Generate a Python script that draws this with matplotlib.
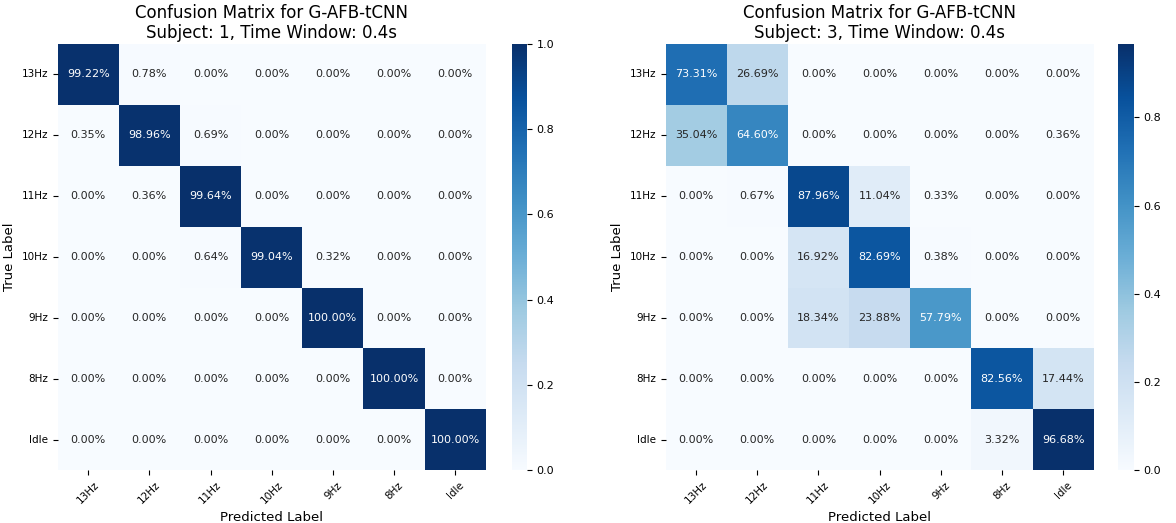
import numpy as np
import matplotlib
matplotlib.use("Agg")
import matplotlib.pyplot as plt
import seaborn as sns

labels = ["13Hz", "12Hz", "11Hz", "10Hz", "9Hz", "8Hz", "Idle"]

subj1 = np.array([
    [0.9922, 0.0078, 0, 0, 0, 0, 0],
    [0.0035, 0.9896, 0.0069, 0, 0, 0, 0],
    [0, 0.0036, 0.9964, 0, 0, 0, 0],
    [0, 0, 0.0064, 0.9904, 0.0032, 0, 0],
    [0, 0, 0, 0, 1.0, 0, 0],
    [0, 0, 0, 0, 0, 1.0, 0],
    [0, 0, 0, 0, 0, 0, 1.0],
])

subj3 = np.array([
    [0.7331, 0.2669, 0, 0, 0, 0, 0],
    [0.3504, 0.6460, 0, 0, 0, 0, 0.0036],
    [0, 0.0067, 0.8796, 0.1104, 0.0033, 0, 0],
    [0, 0, 0.1692, 0.8269, 0.0038, 0, 0],
    [0, 0, 0.1834, 0.2388, 0.5779, 0, 0],
    [0, 0, 0, 0, 0, 0.8256, 0.1744],
    [0, 0, 0, 0, 0, 0.0332, 0.9668],
])

fig = plt.figure(figsize=(11.76, 5.23), dpi=100)
panels = [
    (subj1, "Confusion Matrix for G-AFB-tCNN\nSubject: 1, Time Window: 0.4s",
     [0.049, 0.101, 0.364, 0.815], [0.435, 0.101, 0.013, 0.815]),
    (subj3, "Confusion Matrix for G-AFB-tCNN\nSubject: 3, Time Window: 0.4s",
     [0.566, 0.101, 0.364, 0.815], [0.951, 0.101, 0.013, 0.815]),
]
for data, title, axpos, cbpos in panels:
    ax = fig.add_axes(axpos)
    cax = fig.add_axes(cbpos)
    annot = np.vectorize(lambda v: f"{v*100:.2f}%")(data)
    sns.heatmap(data, annot=annot, fmt="", cmap="Blues", ax=ax, cbar_ax=cax,
                xticklabels=labels, yticklabels=labels, annot_kws={"fontsize": 8})
    ax.set_title(title, fontsize=12, pad=4)
    ax.set_xlabel("Predicted Label", fontsize=9.5)
    ax.set_ylabel("True Label", fontsize=9.5)
    ax.tick_params(labelsize=7.5)
    plt.setp(ax.get_xticklabels(), rotation=45)
    plt.setp(ax.get_yticklabels(), rotation=0)
    cax.tick_params(labelsize=8)

fig.savefig("out.png", dpi=100)
